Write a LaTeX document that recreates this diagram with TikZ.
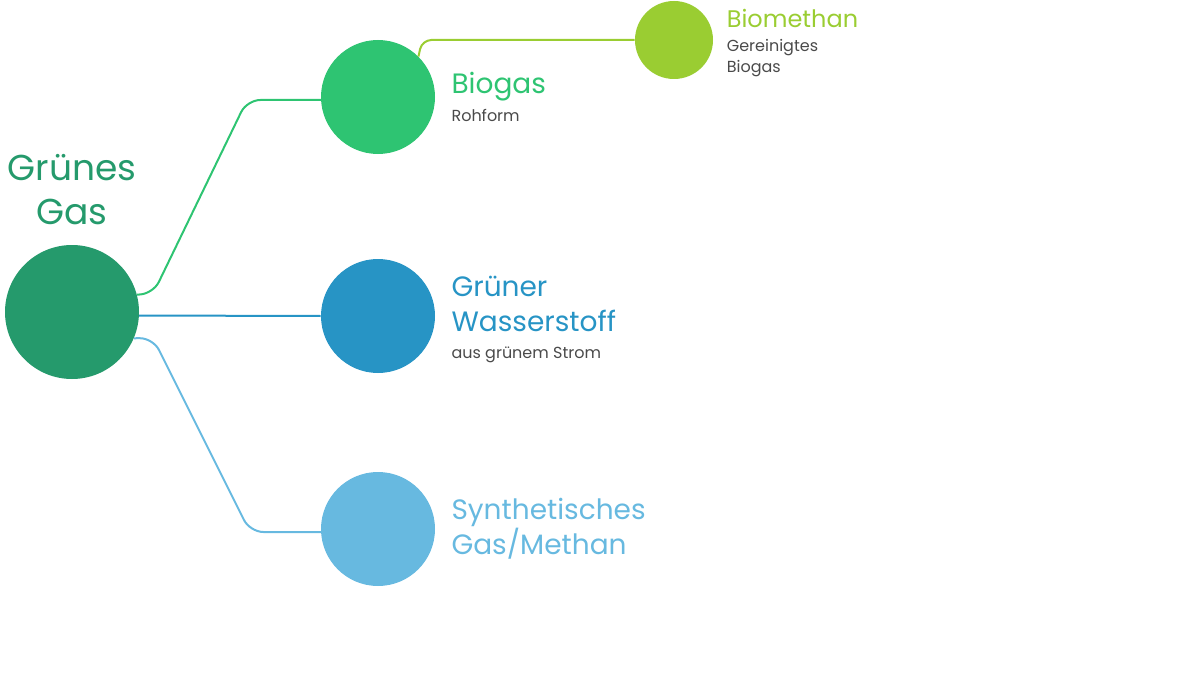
\documentclass[tikz,border=0pt]{standalone}
\usepackage{fontspec}
\setmainfont{Poppins}
\usetikzlibrary{positioning}

\definecolor{gasgruen}{HTML}{259A6C}
\definecolor{biogruen}{HTML}{2EC472}
\definecolor{methgruen}{HTML}{9ACD32}
\definecolor{hzweiblau}{HTML}{2794C5}
\definecolor{synblau}{HTML}{67B9E0}
\definecolor{textgrau}{HTML}{4A4A4A}

\newcommand{\titelfont}{\fontsize{21}{26}\selectfont}
\newcommand{\unterfont}{\fontsize{12}{26}\selectfont\color{textgrau}}

\begin{document}
\begin{tikzpicture}
		[
			x=0.75pt, y=-0.75pt,
			node distance=12pt,
			kreis/.style={circle, inner sep=0pt, minimum size=#1},
			beschriftung/.style={align=left, inner sep=0pt, right=of #1, font=\titelfont},
			linie/.style={line width=1.5pt, rounded corners=10pt}
		]

		\useasboundingbox (0,0) rectangle (1200,674);

		% Kreise
		\node[kreis=100.5pt, fill=gasgruen] (gas) at (72,312) {};
		\node[kreis=85.5pt, fill=biogruen] (biogas) at (378,97) {};
		\node[kreis=85.5pt, fill=hzweiblau] (wasserstoff) at (378,316) {};
		\node[kreis=85.5pt, fill=synblau] (synth) at (378,529) {};
		\node[kreis=58.5pt, fill=methgruen] (biomethan) at (674,40) {};

		% Texte
		\node[align=center, inner sep=0pt, above=15pt of gas, text=gasgruen,
			font=\fontsize{27}{33}\selectfont] (gastext) {Grünes\\Gas};
		\node[beschriftung=biogas, text=biogruen] (biogastext)
			{Biogas\\[-5pt]{\unterfont Rohform}};
		\node[beschriftung=wasserstoff, text=hzweiblau, yshift=-2.5pt] (wasserstofftext)
			{Grüner\\Wasserstoff\\[-6pt]{\unterfont aus grünem Strom}};
		\node[beschriftung=synth, text=synblau] (synthtext)
			{Synthetisches\\Gas/Methan};
		\node[beschriftung=biomethan, text=methgruen, right=10pt of biomethan, yshift=-2.25pt,
			font=\fontsize{18}{18}\selectfont] (biomethantext)
			{Biomethan\\{\unterfont Gereinigtes}\\[-2pt]{\unterfont Biogas}};

		% Verbindungen
		\draw[linie, biogruen] (gas.15) -- (153,294) -- (247,100) -- (biogas.183);
		\draw[linie, hzweiblau] (gas.-3) -- (wasserstoff.west);
		\draw[linie, synblau] (gas.-23) -- (153,338) -- (250,532) -- (synth.183);
		\draw[linie, methgruen, rounded corners=7pt] (biogas.45) -- (422,40) -- (biomethan.west);
	\end{tikzpicture}
\end{document}
